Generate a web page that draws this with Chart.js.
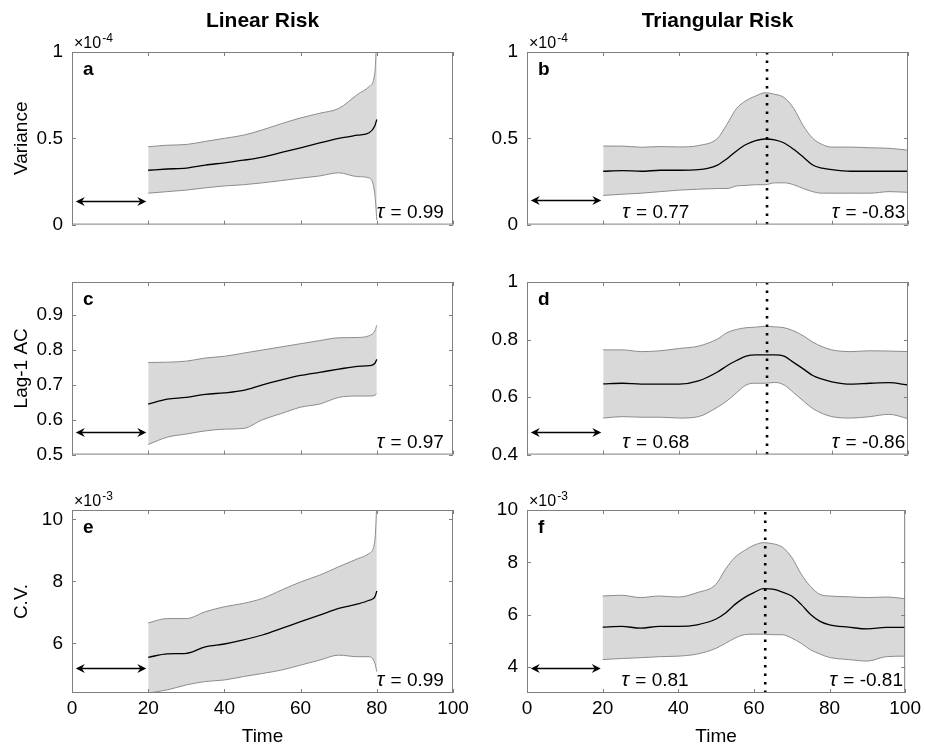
<!DOCTYPE html>
<html>
<head>
<meta charset="utf-8">
<script src="https://cdn.jsdelivr.net/npm/chart.js@4.4.1/dist/chart.umd.min.js"></script>
<style>
  body { margin: 0; background: #fff; }
  #wrap { position: relative; width: 925px; height: 751px; overflow: hidden; }
  canvas { position: absolute; }
</style>
</head>
<body>
<div id="wrap">
  <canvas id="pa"></canvas>
  <canvas id="pb"></canvas>
  <canvas id="pc"></canvas>
  <canvas id="pd"></canvas>
  <canvas id="pe"></canvas>
  <canvas id="pf"></canvas>
</div>
<script>
'use strict';

// time points
let linTime = [20, 25, 30, 35, 40, 45, 50, 55, 60, 65, 70, 75, 78, 79.5, 80];
let triTime = [20, 25, 30, 35, 40, 45, 50, 52.5, 55, 57.5, 60, 62.5, 65, 67.5, 70, 72.5, 75, 77.5, 80, 85, 90, 95, 100];
let xTicks = [0, 20, 40, 60, 80, 100];
let peakTime = 63;
let arrowFrom = 1;
let arrowTo = 19.5;
let tauX = [25, 80];

// variance (x10^-4)
let varLinUpper = [0.451, 0.46, 0.464, 0.482, 0.5, 0.518, 0.549, 0.585, 0.618, 0.645, 0.673, 0.755, 0.8, 0.88, 1.1];
let varLinMean = [0.315, 0.322, 0.327, 0.345, 0.358, 0.373, 0.391, 0.418, 0.445, 0.473, 0.5, 0.518, 0.532, 0.573, 0.609];
let varLinLower = [0.182, 0.191, 0.2, 0.213, 0.224, 0.231, 0.242, 0.255, 0.269, 0.282, 0.3, 0.278, 0.27, 0.173, 0.027];
let varTriUpper = [0.455, 0.455, 0.448, 0.452, 0.45, 0.458, 0.5, 0.582, 0.673, 0.718, 0.745, 0.764, 0.755, 0.736, 0.673, 0.573, 0.5, 0.464, 0.449, 0.449, 0.445, 0.442, 0.431];
let varTriMean = [0.309, 0.313, 0.309, 0.315, 0.315, 0.318, 0.345, 0.382, 0.427, 0.464, 0.487, 0.496, 0.491, 0.473, 0.436, 0.391, 0.345, 0.327, 0.318, 0.309, 0.309, 0.309, 0.309];
let varTriLower = [0.169, 0.176, 0.182, 0.191, 0.2, 0.205, 0.209, 0.209, 0.224, 0.227, 0.231, 0.231, 0.242, 0.242, 0.231, 0.209, 0.191, 0.182, 0.182, 0.182, 0.182, 0.191, 0.187];
let varTicks = [0, 0.5, 1];

// lag-1 autocorrelation
let acLinUpper = [0.764, 0.765, 0.768, 0.777, 0.782, 0.791, 0.8, 0.809, 0.818, 0.827, 0.835, 0.836, 0.841, 0.855, 0.871];
let acLinMean = [0.645, 0.659, 0.664, 0.673, 0.677, 0.684, 0.7, 0.714, 0.727, 0.736, 0.745, 0.753, 0.755, 0.762, 0.773];
let acLinLower = [0.529, 0.55, 0.559, 0.568, 0.573, 0.575, 0.6, 0.618, 0.636, 0.645, 0.664, 0.668, 0.668, 0.67, 0.675];
let acTriUpper = [0.764, 0.764, 0.758, 0.761, 0.769, 0.777, 0.802, 0.824, 0.835, 0.841, 0.843, 0.846, 0.844, 0.841, 0.83, 0.813, 0.791, 0.775, 0.764, 0.758, 0.761, 0.76, 0.758];
let acTriMean = [0.646, 0.648, 0.645, 0.645, 0.645, 0.656, 0.687, 0.709, 0.727, 0.742, 0.747, 0.747, 0.747, 0.742, 0.72, 0.698, 0.675, 0.662, 0.653, 0.645, 0.648, 0.65, 0.642];
let acTriLower = [0.527, 0.532, 0.53, 0.53, 0.527, 0.532, 0.565, 0.587, 0.615, 0.642, 0.648, 0.648, 0.651, 0.642, 0.615, 0.587, 0.56, 0.543, 0.532, 0.527, 0.532, 0.54, 0.525];
let acLinTicks = [0.5, 0.6, 0.7, 0.8, 0.9];
let acTriTicks = [0.4, 0.6, 0.8, 1];

// coefficient of variation (x10^-3)
let cvLinUpper = [6.66, 6.8, 6.8, 7.02, 7.18, 7.29, 7.45, 7.72, 7.98, 8.2, 8.47, 8.73, 8.9, 9.32, 10.5];
let cvLinMean = [5.55, 5.66, 5.68, 5.89, 5.98, 6.11, 6.27, 6.48, 6.7, 6.91, 7.13, 7.27, 7.39, 7.5, 7.69];
let cvLinLower = [4.4, 4.5, 4.66, 4.77, 4.82, 4.93, 5.03, 5.14, 5.3, 5.46, 5.62, 5.57, 5.57, 5.36, 5.09];
let cvTriUpper = [6.71, 6.74, 6.65, 6.71, 6.67, 6.84, 7.16, 7.74, 8.19, 8.45, 8.65, 8.75, 8.71, 8.58, 8.19, 7.55, 7.07, 6.77, 6.71, 6.68, 6.65, 6.67, 6.61];
let cvTriMean = [5.52, 5.55, 5.48, 5.55, 5.55, 5.61, 5.83, 6.06, 6.39, 6.65, 6.84, 6.99, 6.97, 6.86, 6.71, 6.39, 6.0, 5.74, 5.61, 5.52, 5.45, 5.51, 5.51];
let cvTriLower = [4.28, 4.32, 4.35, 4.39, 4.41, 4.49, 4.71, 4.9, 5.1, 5.23, 5.25, 5.25, 5.23, 5.23, 5.1, 4.9, 4.65, 4.49, 4.36, 4.28, 4.22, 4.39, 4.41];
let cvLinTicks = [6, 8, 10];
let cvTriTicks = [4, 6, 8, 10];

// kendall tau labels
let tauLin = ['0.99', '0.97', '0.99'];
let tauTriUp = ['0.77', '0.68', '0.81'];
let tauTriDown = ['-0.83', '-0.86', '-0.81'];


Chart.defaults.font.family = "'Liberation Sans', Arial, sans-serif";
Chart.defaults.color = '#000';

const FONT = "'Liberation Sans', Arial, sans-serif";
const AXIS_GRAY = '#7f7f7f';

// canvas / plot boxes in page pixels
let cols = [
  { cl: 0, cw: 480, pl: 72, pr: 453 },
  { cl: 460, cw: 465, pl: 527, pr: 908 }
];
let rows = [
  { ct: 0, ch: 245, pt: 52, pb: 235 },
  { ct: 245, ch: 230, pt: 282, pb: 463 },
  { ct: 470, ch: 281, pt: 510, pb: 693 }
];

function toPts(time, vals) {
  return time.map((t, i) => ({ x: t, y: vals[i] }));
}

function drawArrowHead(ctx, x, y, dir) {
  ctx.beginPath();
  ctx.moveTo(x, y);
  ctx.lineTo(x - dir * 9, y - 4.5);
  ctx.lineTo(x - dir * 6, y);
  ctx.lineTo(x - dir * 9, y + 4.5);
  ctx.closePath();
  ctx.fill();
}

function makePanel(id, p) {
  let col = cols[p.col];
  let row = rows[p.row];
  let canvas = document.getElementById(id);
  canvas.width = col.cw;
  canvas.height = row.ch;
  canvas.style.left = col.cl + 'px';
  canvas.style.top = row.ct + 'px';

  let yWidth = col.pl - col.cl;
  let xHeight = row.ct + row.ch - row.pb;

  let decor = {
    id: 'decor' + id,
    afterDatasetsDraw(chart) {
      let ctx = chart.ctx;
      let a = chart.chartArea;
      let xs = chart.scales.x;
      let ys = chart.scales.y;
      ctx.save();

      // arrow over the first 20 time units
      let ay = Math.round(ys.getPixelForValue(p.arrowY)) + 0.5;
      let ax1 = xs.getPixelForValue(arrowFrom);
      let ax2 = xs.getPixelForValue(arrowTo);
      ctx.strokeStyle = '#000';
      ctx.fillStyle = '#000';
      ctx.lineWidth = 1.5;
      ctx.beginPath();
      ctx.moveTo(ax1 + 6, ay);
      ctx.lineTo(ax2 - 6, ay);
      ctx.stroke();
      drawArrowHead(ctx, ax1, ay, -1);
      drawArrowHead(ctx, ax2, ay, 1);

      // box and inward ticks
      ctx.strokeStyle = AXIS_GRAY;
      ctx.lineWidth = 1;
      ctx.strokeRect(a.left + 0.5, a.top + 0.5, a.right - a.left - 1, a.bottom - a.top - 1);
      ctx.beginPath();
      xTicks.forEach(v => {
        let px = Math.round(xs.getPixelForValue(v)) + 0.5;
        ctx.moveTo(px, a.bottom);
        ctx.lineTo(px, a.bottom - 4);
        ctx.moveTo(px, a.top);
        ctx.lineTo(px, a.top + 4);
      });
      p.yTicks.forEach(v => {
        let py = Math.round(ys.getPixelForValue(v)) + 0.5;
        ctx.moveTo(a.left, py);
        ctx.lineTo(a.left + 4, py);
        ctx.moveTo(a.right, py);
        ctx.lineTo(a.right - 4, py);
      });
      ctx.stroke();

      // panel letter
      ctx.fillStyle = '#000';
      ctx.font = 'bold 19px ' + FONT;
      ctx.textAlign = 'left';
      ctx.textBaseline = 'alphabetic';
      ctx.fillText(p.letter, a.left + 11, a.top + 23);

      // kendall tau
      p.taus.forEach((txt, i) => {
        if (!txt) {
          return;
        }
        let tx = xs.getPixelForValue(tauX[i]);
        ctx.font = 'italic 20px ' + FONT;
        ctx.fillText('\u03c4', tx, a.bottom - 7);
        let tw = ctx.measureText('\u03c4').width;
        ctx.font = '19px ' + FONT;
        ctx.fillText(' = ' + txt, tx + tw + 1, a.bottom - 7);
      });

      // exponent
      if (p.exponent) {
        ctx.font = '16px ' + FONT;
        let base = '\u00d710';
        ctx.fillText(base, a.left + 2, a.top - 4);
        let w = ctx.measureText(base).width;
        ctx.font = '12px ' + FONT;
        ctx.fillText(p.exponent, a.left + 2 + w + 1, a.top - 10);
      }

      // column title
      if (p.colTitle) {
        ctx.font = 'bold 21px ' + FONT;
        ctx.textAlign = 'center';
        ctx.fillText(p.colTitle, (a.left + a.right) / 2, 27);
      }
      ctx.restore();
    }
  };

  let datasets = [
    {
      data: toPts(p.time, p.mean),
      borderColor: '#000',
      borderWidth: 1.3,
      pointRadius: 0,
      fill: false,
      cubicInterpolationMode: 'monotone'
    }
  ];
  if (p.peak) {
    datasets.push({
      data: [{ x: peakTime, y: p.yMin }, { x: peakTime, y: p.yMax }],
      borderColor: '#000',
      borderWidth: 2.6,
      borderDash: [2.6, 5.9],
      pointRadius: 0,
      fill: false
    });
  }
  datasets.push({
    data: toPts(p.time, p.upper),
    borderColor: '#8c8c8c',
    backgroundColor: '#d9d9d9',
    borderWidth: 1,
    pointRadius: 0,
    fill: '+1',
    cubicInterpolationMode: 'monotone'
  });
  datasets.push({
    data: toPts(p.time, p.lower),
    borderColor: '#8c8c8c',
    borderWidth: 1,
    pointRadius: 0,
    fill: false,
    cubicInterpolationMode: 'monotone'
  });

  return new Chart(canvas, {
    type: 'line',
    data: { datasets: datasets },
    options: {
      responsive: false,
      animation: false,
      devicePixelRatio: 1,
      layout: {
        padding: { top: row.pt - row.ct, right: col.cl + col.cw - col.pr, bottom: 0, left: 0 }
      },
      plugins: {
        legend: { display: false },
        tooltip: { enabled: false },
        filler: { drawTime: 'beforeDatasetsDraw' }
      },
      scales: {
        x: {
          type: 'linear',
          min: 0,
          max: 100,
          grid: { display: false, drawTicks: false },
          border: { display: false },
          afterBuildTicks: s => { s.ticks = xTicks.map(v => ({ value: v })); },
          afterFit: s => { s.height = xHeight; },
          ticks: {
            display: p.row === 2,
            padding: 4,
            maxRotation: 0,
            font: { size: 19 },
            callback: v => String(v)
          },
          title: {
            display: p.row === 2,
            text: 'Time',
            font: { size: 19 },
            padding: { top: 0, bottom: 3 }
          }
        },
        y: {
          type: 'linear',
          min: p.yMin,
          max: p.yMax,
          grid: { display: false, drawTicks: false },
          border: { display: false },
          afterBuildTicks: s => { s.ticks = p.yTicks.map(v => ({ value: v })); },
          afterFit: s => { s.width = yWidth; },
          ticks: {
            padding: 9,
            font: { size: 19 },
            callback: v => String(v)
          },
          title: {
            display: !!p.yTitle,
            text: p.yTitle || '',
            font: { size: 19 },
            padding: { top: 10, bottom: 0 }
          }
        }
      }
    },
    plugins: [decor]
  });
}

makePanel('pa', {
  col: 0, row: 0, time: linTime, upper: varLinUpper, mean: varLinMean, lower: varLinLower,
  yMin: 0, yMax: 1, yTicks: varTicks, yTitle: 'Variance', letter: 'a', exponent: '-4',
  taus: [null, tauLin[0]], arrowY: 0.137, colTitle: 'Linear Risk'
});
makePanel('pb', {
  col: 1, row: 0, time: triTime, upper: varTriUpper, mean: varTriMean, lower: varTriLower,
  yMin: 0, yMax: 1, yTicks: varTicks, letter: 'b', exponent: '-4', peak: true,
  taus: [tauTriUp[0], tauTriDown[0]], arrowY: 0.14, colTitle: 'Triangular Risk'
});
makePanel('pc', {
  col: 0, row: 1, time: linTime, upper: acLinUpper, mean: acLinMean, lower: acLinLower,
  yMin: 0.5, yMax: 0.995, yTicks: acLinTicks, yTitle: 'Lag-1 AC', letter: 'c',
  taus: [null, tauLin[1]], arrowY: 0.566
});
makePanel('pd', {
  col: 1, row: 1, time: triTime, upper: acTriUpper, mean: acTriMean, lower: acTriLower,
  yMin: 0.4, yMax: 1, yTicks: acTriTicks, letter: 'd', peak: true,
  taus: [tauTriUp[1], tauTriDown[1]], arrowY: 0.48
});
makePanel('pe', {
  col: 0, row: 2, time: linTime, upper: cvLinUpper, mean: cvLinMean, lower: cvLinLower,
  yMin: 4.4, yMax: 10.3, yTicks: cvLinTicks, yTitle: 'C.V.', letter: 'e', exponent: '-3',
  taus: [null, tauLin[2]], arrowY: 5.19
});
makePanel('pf', {
  col: 1, row: 2, time: triTime, upper: cvTriUpper, mean: cvTriMean, lower: cvTriLower,
  yMin: 3, yMax: 10, yTicks: cvTriTicks, letter: 'f', exponent: '-3', peak: true,
  taus: [tauTriUp[2], tauTriDown[2]], arrowY: 3.95
});
</script>
</body>
</html>
